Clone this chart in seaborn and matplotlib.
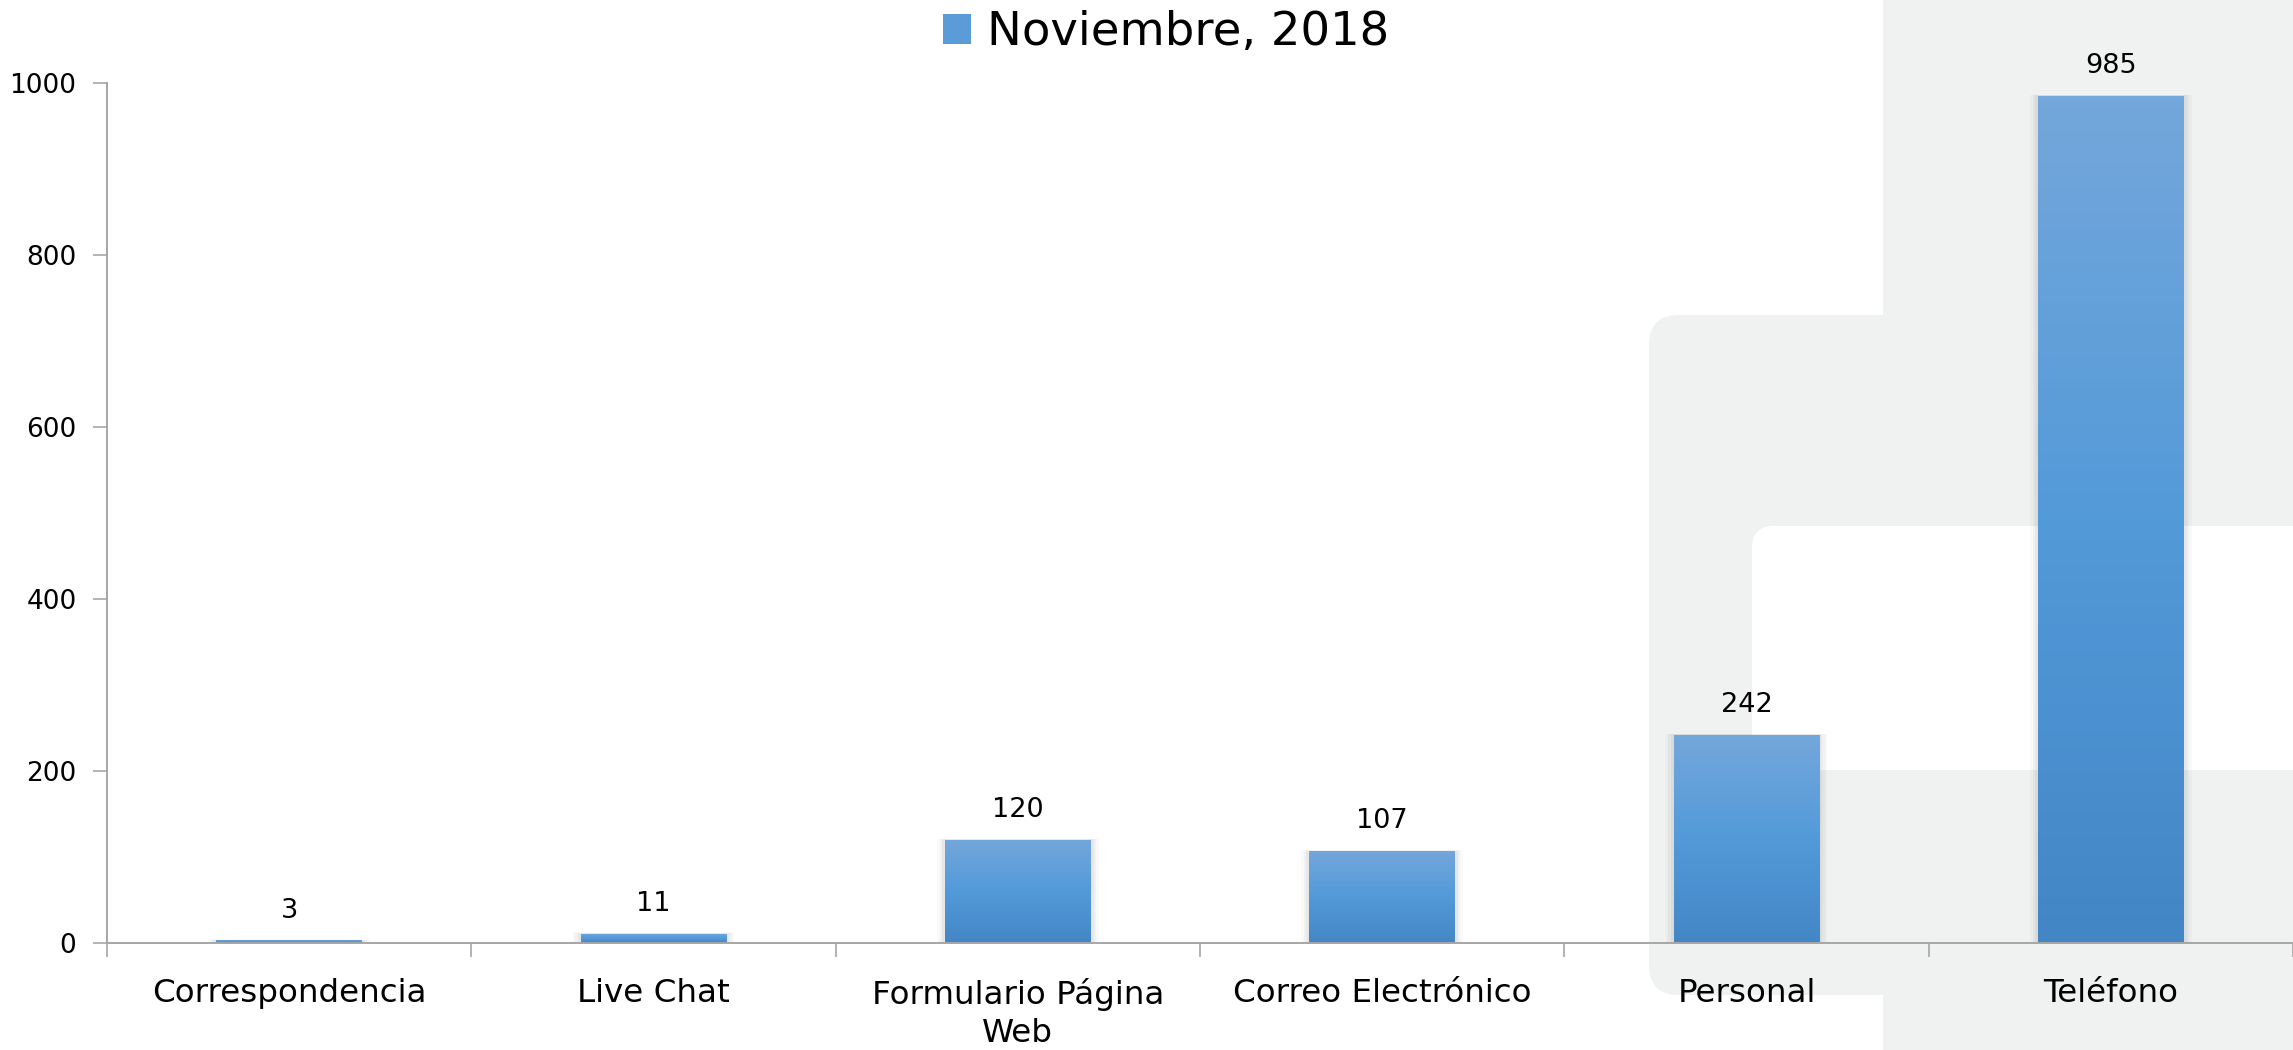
import numpy as np
import pandas as pd
import matplotlib
matplotlib.use("Agg")
import matplotlib.pyplot as plt
from matplotlib.patches import FancyBboxPatch, Rectangle
from matplotlib.colors import LinearSegmentedColormap
import seaborn as sns

# Data
canales = ["Correspondencia", "Live Chat", "Formulario Página\nWeb",
           "Correo Electrónico", "Personal", "Teléfono"]
valores = [3, 11, 120, 107, 242, 985]
serie = "Noviembre, 2018"
yticks = [0, 200, 400, 600, 800, 1000]

df = pd.DataFrame({"canal": canales, "valor": valores})

sns.set_theme(style="white")
plt.rcParams["font.family"] = ["DejaVu Sans"]
plt.rcParams["text.color"] = "black"

W, H, DPI = 2293, 1050, 100
fig = plt.figure(figsize=(W / DPI, H / DPI), dpi=DPI, facecolor="white")

# Decorative background blocks (pixel units, top-left origin)
GREY = "#f0f1f1"
def block(x0, y0, x1, y1, color, r):
    p = FancyBboxPatch((x0 / DPI, (H - y1) / DPI), (x1 - x0) / DPI, (y1 - y0) / DPI,
                       boxstyle=f"round,pad=0,rounding_size={r / DPI}",
                       transform=fig.dpi_scale_trans, facecolor=color,
                       edgecolor="none", zorder=-5)
    fig.add_artist(p)

block(1883, -60, 2400, 1120, GREY, 20)
block(1649, 315, 2100, 995, GREY, 30)
block(1752, 526, 2450, 770, "white", 22)

ax = fig.add_axes([107 / W, 1 - 943 / H, 1 - 107 / W, (943 - 83) / H])
ax.patch.set_alpha(0)

base = "#5599d6"
sns.barplot(data=df, x="canal", y="valor", color=base, width=0.4,
            saturation=1, linewidth=0, ax=ax, label=serie, zorder=3)

# Vertical gradient fill and soft shadow for each bar
cmap = LinearSegmentedColormap.from_list("bar", ["#4386c6", "#539ad9", "#74a7db"])
grad = np.linspace(0, 1, 256).reshape(-1, 1)
for bar in list(ax.patches):
    x0, y0 = bar.get_x(), bar.get_y()
    w, h = bar.get_width(), bar.get_height()
    for k, a in [(0.022, 0.025), (0.015, 0.03), (0.008, 0.04)]:
        ax.add_patch(Rectangle((x0 - k, y0), w + 2 * k, h + k * 60, facecolor="black",
                               edgecolor="none", alpha=a, zorder=2))
    im = ax.imshow(grad, extent=[x0, x0 + w, y0, y0 + h], origin="lower",
                   cmap=cmap, aspect="auto", zorder=4, interpolation="bicubic")
    im.set_clip_path(bar)

ax.bar_label(ax.containers[0], labels=[str(v) for v in valores],
             padding=12, fontsize=19.5, color="black", zorder=6)

ax.set_xlim(-0.5, len(canales) - 0.5)
ax.set_ylim(0, 1000)
ax.set_yticks(yticks)
ax.set_yticklabels([str(t) for t in yticks])
ax.set_xlabel("")
ax.set_ylabel("")

# Boundary ticks between categories, labels centred under bars
ax.set_xticks(np.arange(-0.5, len(canales)), labels=[""] * (len(canales) + 1))
ax.set_xticks(np.arange(len(canales)), labels=canales, minor=True)
ax.tick_params(axis="x", which="major", length=10, width=1.2, color="#a6a6a6",
               direction="out", bottom=True)
ax.tick_params(axis="x", which="minor", length=0, pad=25, labelsize=23.4,
               labelcolor="black")
ax.tick_params(axis="y", length=10, width=1.2, color="#a6a6a6", direction="out",
               left=True, pad=12, labelsize=19, labelcolor="black")
for lab in ax.get_xticklabels(minor=True):
    lab.set_linespacing(1.3)

for s in ["top", "right"]:
    ax.spines[s].set_visible(False)
for s in ["left", "bottom"]:
    ax.spines[s].set_color("#a6a6a6")
    ax.spines[s].set_linewidth(1.4)
ax.spines["bottom"].set_zorder(5)

h_, l_ = ax.get_legend_handles_labels()
leg = ax.legend(h_[:1], l_[:1], loc="center", bbox_to_anchor=(1166 / W, 1 - 33 / H),
                bbox_transform=fig.transFigure, frameon=False, fontsize=33.5,
                handlelength=0.6, handleheight=0.6, handletextpad=0.35,
                borderpad=0, labelcolor="black")
for p in leg.get_patches():
    p.set_facecolor("#5b9bd8")

fig.savefig("out.png", dpi=DPI, facecolor="white")
